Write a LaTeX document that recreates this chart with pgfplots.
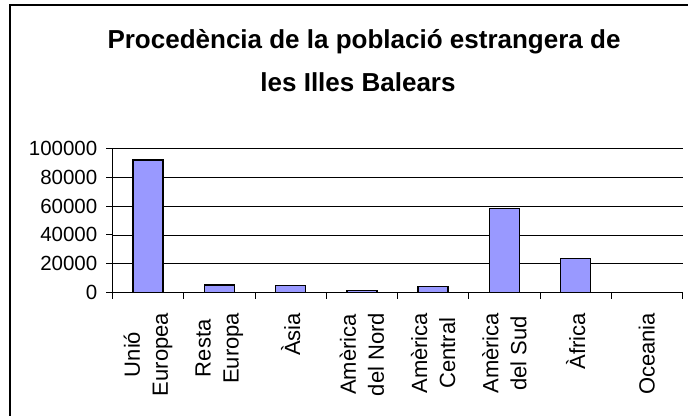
\documentclass[border=0pt]{standalone}
\usepackage{pgfplots}
\pgfplotsset{compat=1.18}
\usepackage{fontspec}
\setmainfont{Liberation Sans}
\definecolor{barfill}{HTML}{9999FF}
\begin{document}
\begin{tikzpicture}
\path[use as bounding box] (0bp,0bp) rectangle (688bp,416bp);
\draw[line width=2bp] (10bp,-5bp) -- (10bp,411bp) -- (700bp,411bp);
\node[font=\fontsize{26bp}{30bp}\selectfont\bfseries, anchor=base] at (364bp,367bp) {Procedència de la població estrangera de};
\node[font=\fontsize{26bp}{30bp}\selectfont\bfseries, anchor=base] at (358bp,324.3bp) {les Illes Balears};
\begin{axis}[
  at={(112.5bp,123.3bp)}, anchor=south west,
  scale only axis, width=570bp, height=144.4bp,
  xmin=-0.5, xmax=7.5, ymin=0, ymax=100000,
  ybar, bar width=30bp,
  axis x line=bottom, axis y line=left,
  axis line style={-, black, line width=0.9bp},
  tick align=outside,
  major tick length=6bp, minor tick length=6bp,
  xtick={0,...,7},
  xticklabels={{Unió\\Europea},{Resta\\Europa},{Àsia},{Amèrica\\del Nord},{Amèrica\\Central},{Amèrica\\del Sud},{Àfrica},{Oceania}},
  major x tick style={draw=none},
  minor xtick={-0.5,0.5,...,7.5},
  minor x tick style={black, line width=0.9bp},
  ytick={0,20000,40000,60000,80000,100000},
  yticklabels={0,20000,40000,60000,80000,100000},
  y tick style={black, line width=0.9bp},
  ymajorgrids, grid style={black, line width=0.8bp},
  scaled y ticks=false,
  yticklabel style={font=\fontsize{20.5bp}{24bp}\selectfont, inner sep=0pt, xshift=-9bp},
  xticklabel style={yshift=-14bp, rotate=90, anchor=east, align=center, font=\fontsize{22bp}{28bp}\selectfont, inner sep=0pt},
]
\addplot[fill=barfill, draw=black, line width=1.3bp] coordinates {
  (0,91900) (1,5300) (2,5200) (3,1500) (4,4200) (5,58400) (6,23800) (7,0)
};
\end{axis}
\end{tikzpicture}
\end{document}
